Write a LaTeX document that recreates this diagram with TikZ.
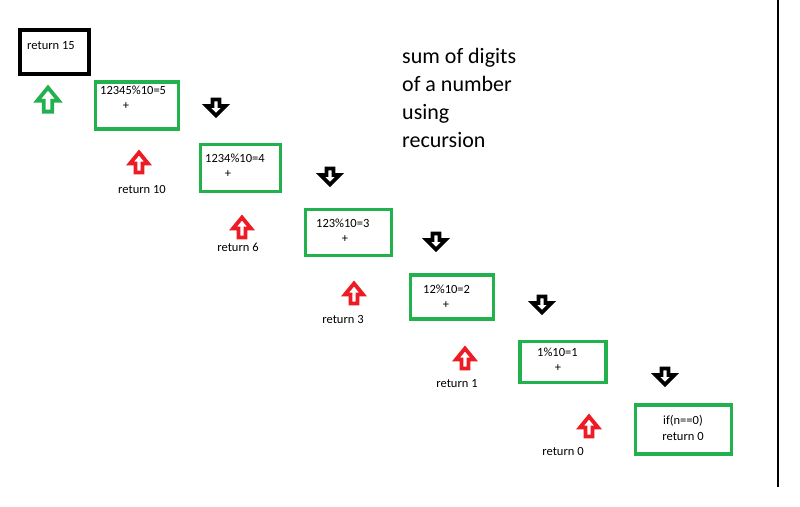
\documentclass[tikz,border=0pt]{standalone}
\usepackage{fontspec}
\setmainfont{Carlito}
\definecolor{pgreen}{RGB}{34,177,76}
\definecolor{pred}{RGB}{237,28,36}
\begin{document}
\begin{tikzpicture}[x=1pt,y=-1pt,
  box/.style={draw=pgreen,line width=3.5pt,minimum width=#1,inner sep=0pt},
  txt/.style={font=\fontsize{12.5}{15}\selectfont,inner sep=0pt,anchor=west},
  ctxt/.style={font=\fontsize{12.5}{15.5}\selectfont,inner sep=0pt},
  uparr/.pic={\draw[line width=3.8pt,line join=miter,miter limit=3,pic actions] (0,-9.5) -- (9,1.5) -- (3.5,1.5) -- (3.5,10.5) -- (-3.5,10.5) -- (-3.5,1.5) -- (-9,1.5) -- cycle;},
  downarr/.pic={\draw[line width=3.8pt,line join=miter,miter limit=3,pic actions] (0,7.5) -- (9.5,-2) -- (3.5,-2) -- (3.5,-8.5) -- (-3.5,-8.5) -- (-3.5,-2) -- (-9.5,-2) -- cycle;}
]
\useasboundingbox (0,0) rectangle (800,506);
\fill[white] (0,0) rectangle (800,506);
% right rule
\coordinate (rt) at (778,0);
\coordinate (rb) at (778,487);
\draw[line width=2pt] (rt) -- (rb);
% title
\node[anchor=base west,align=left,inner sep=0pt,font=\fontsize{22}{28}\selectfont] (title) at (402,147) {sum of digits\\of a number\\using\\recursion};
% boxes
\node[draw=black,line width=4pt,minimum width=69pt,minimum height=44pt,inner sep=0pt] (r15) at (54.5,51.5) {};
\node[txt] (r15t) at (27,46) {return 15};
\node[box=83pt,minimum height=47pt] (b1) at (137,105.5) {};
\node[txt] (b1t) at (100,90) {12345\%10=5};
\node[ctxt] (b1p) at (126,106) {+};
\node[box=80pt,minimum height=47pt] (b2) at (240.5,168) {};
\node[txt] (b2t) at (205,158) {1234\%10=4};
\node[ctxt] (b2p) at (228,174) {+};
\node[box=86pt,minimum height=46pt] (b3) at (348.5,232.5) {};
\node[txt] (b3t) at (316,223) {123\%10=3};
\node[ctxt] (b3p) at (345,239) {+};
\node[box=83pt,minimum height=44pt] (b4) at (452,297) {};
\node[txt] (b4t) at (423,289) {12\%10=2};
\node[ctxt] (b4p) at (446,305) {+};
\node[box=86pt,minimum height=41pt] (b5) at (563,362) {};
\node[txt] (b5t) at (537,352) {1\%10=1};
\node[ctxt] (b5p) at (558,368) {+};
\node[box=96pt,minimum height=49pt] (b6) at (683.5,429.5) {};
\node[ctxt,align=center] (b6t) at (683,428) {if(n==0)\\return 0};
% up arrows
\pic[draw=pgreen,scale=1.2] at (48,99) {uparr};
\pic[draw=pred] at (139,162) {uparr};
\pic[draw=pred] at (242,227) {uparr};
\pic[draw=pred] at (354,293) {uparr};
\pic[draw=pred] at (465,358) {uparr};
\pic[draw=pred] at (589,426) {uparr};
% return labels
\node[ctxt] (l1) at (142,189) {return 10};
\node[ctxt] (l2) at (238,247) {return 6};
\node[ctxt] (l3) at (343,319) {return 3};
\node[ctxt] (l4) at (457,384) {return 1};
\node[ctxt] (l5) at (563,451) {return 0};
% down arrows
\pic[draw=black] at (216,108) {downarr};
\pic[draw=black] at (330,177) {downarr};
\pic[draw=black] at (436,242) {downarr};
\pic[draw=black] at (542,305) {downarr};
\pic[draw=black] at (665,377) {downarr};
\end{tikzpicture}
\end{document}
